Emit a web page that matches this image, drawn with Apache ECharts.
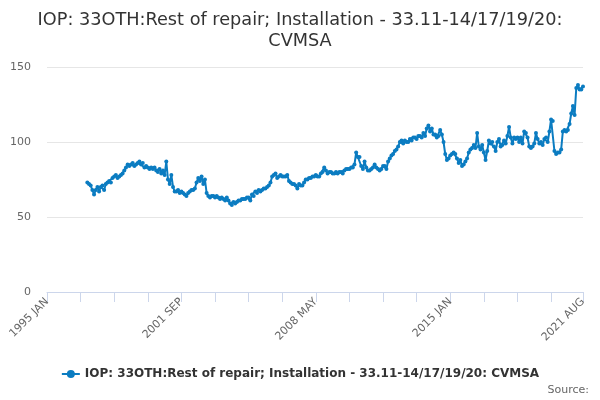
<!DOCTYPE html>
<html>
<head>
<meta charset="utf-8">
<script src="https://cdn.jsdelivr.net/npm/echarts@6/dist/echarts.min.js"></script>
<style>html,body{margin:0;padding:0;background:#fff}#c{width:600px;height:400px}</style>
</head>
<body>
<div id="c"></div>
<script>
var titleLine1 = 'IOP: 33OTH:Rest of repair; Installation - 33.11-14/17/19/20:';
var titleLine2 = 'CVMSA';
var seriesName = 'IOP: 33OTH:Rest of repair; Installation - 33.11-14/17/19/20: CVMSA';
var monthNames = ['JAN','FEB','MAR','APR','MAY','JUN','JUL','AUG','SEP','OCT','NOV','DEC'];
var startYear = 1995;
var endYear = 2021;
var endMonth = 8; // AUG
var yTicks = [0, 50, 100, 150];
// 1995 JAN - 1996 DEC: no data
var leadingGap = 24;
// 1997 JAN - 2021 AUG
var values = [
73,72,71,68,65,68,70,67,70,71,68,72,73,74,73,76,77,78,76,77,78,79,81,83,85,84,85,86,84,85,86,87,85,86,83,
84,83,82,83,82,83,81,80,82,79,81,78,87,75,72,78,70,67,67,68,66,67,66,65,64,66,67,68,68,69,73,76,74,77,72,75,66,
64,63,64,64,63,64,63,62,63,62,61,63,61,59,58,60,59,60,61,61,62,62,62,63,63,61,65,64,67,66,68,67,68,69,69,70,
71,73,77,78,79,76,77,78,77,77,77,78,74,73,72,72,71,69,72,71,71,73,75,75,76,76,77,77,78,77,77,79,80,83,81,79,
80,80,79,79,80,79,80,80,79,81,82,82,82,83,83,85,93,90,90,84,82,87,83,81,81,82,83,85,83,82,81,82,84,84,82,87,
89,91,92,94,95,97,100,101,99,101,100,100,102,101,103,103,102,104,104,103,106,104,109,111,107,109,105,105,103,104,108,105,100,92,88,
89,91,92,93,92,89,86,88,84,85,87,89,93,95,96,98,96,106,97,95,98,93,88,94,101,99,100,97,94,100,102,97,98,101,99,104,
110,103,99,103,102,103,100,103,99,107,106,103,97,96,97,99,106,102,99,100,98,102,103,100,107,115,114,94,92,93,93,95,107,108,107,108,112,119,124,118,136,138,135,135,137
];

var categories = [];
for (var y = startYear; y <= endYear; y++) {
  for (var m = 0; m < 12; m++) {
    if (y === endYear && m >= endMonth) break;
    categories.push(y + ' ' + monthNames[m]);
  }
}
var seriesData = [];
for (var i = 0; i < leadingGap; i++) seriesData.push(null);
for (var j = 0; j < values.length; j++) seriesData.push(values[j]);
var lastIdx = categories.length - 1;

var chart = echarts.init(document.getElementById('c'), null, {renderer: 'canvas'});
chart.setOption({
  animation: false,
  textStyle: {fontFamily: 'DejaVu Sans'},
  title: [
    {text: titleLine1, left: 'center', top: 6, textStyle: {fontSize: 17.7, fontWeight: 'normal', color: '#333333', fontFamily: 'DejaVu Sans'}},
    {text: titleLine2, left: 'center', top: 27, textStyle: {fontSize: 17.7, fontWeight: 'normal', color: '#333333', fontFamily: 'DejaVu Sans'}}
  ],
  grid: {left: 47, right: 17, top: 67, bottom: 108},
  legend: {
    data: [seriesName],
    left: 'center',
    top: 363,
    itemWidth: 18,
    itemHeight: 10,
    textStyle: {fontSize: 12, fontWeight: 'bold', color: '#333333', fontFamily: 'DejaVu Sans'}
  },
  graphic: [{
    type: 'text', right: 11, top: 385,
    style: {text: 'Source:', fontSize: 11, fill: '#666666', fontFamily: 'DejaVu Sans'}
  }],
  xAxis: {
    type: 'category',
    data: categories,
    boundaryGap: false,
    axisLine: {lineStyle: {color: '#ccd6eb'}},
    axisTick: {
      length: 10,
      lineStyle: {color: '#ccd6eb'},
      interval: function (idx) { return idx % 20 === 0 || idx === lastIdx; }
    },
    axisLabel: {
      rotate: 45,
      color: '#666666',
      fontSize: 11,
      margin: 8,
      interval: function (idx) { return idx % 80 === 0 || idx === lastIdx; }
    },
    splitLine: {show: false}
  },
  yAxis: {
    type: 'value',
    min: yTicks[0],
    max: yTicks[yTicks.length - 1],
    interval: 50,
    axisLine: {show: false},
    axisTick: {show: false},
    axisLabel: {color: '#666666', fontSize: 11, margin: 16},
    splitLine: {lineStyle: {color: '#e6e6e6'}}
  },
  series: [{
    name: seriesName,
    type: 'line',
    data: seriesData,
    connectNulls: false,
    showSymbol: true,
    showAllSymbol: true,
    symbol: 'circle',
    symbolSize: 4,
    lineStyle: {color: '#0b7cc1', width: 2},
    itemStyle: {color: '#0b7cc1'}
  }]
});
</script>
</body>
</html>
